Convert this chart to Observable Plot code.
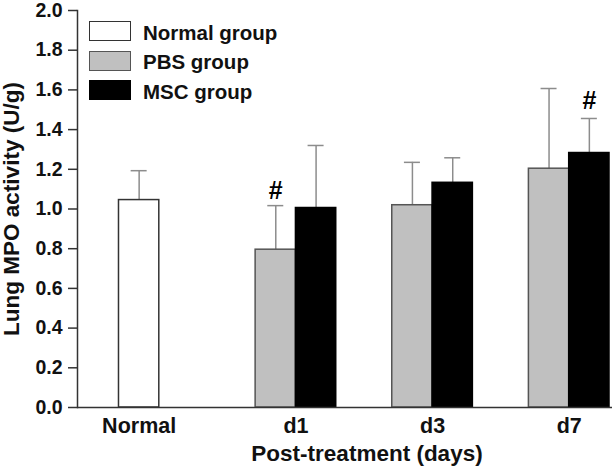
<!DOCTYPE html>
<html>
<head>
<meta charset="utf-8">
<script src="https://cdn.jsdelivr.net/npm/d3@7"></script>
<script src="https://cdn.jsdelivr.net/npm/@observablehq/plot@0.6"></script>
<style>
  html, body { margin: 0; padding: 0; background: #fff; }
  #chart { position: relative; width: 614px; height: 468px; font-family: "Liberation Sans", Arial, sans-serif; font-weight: bold; color: #111; }
  #legend { position: absolute; left: 89px; top: 21px; }
  .row { display: flex; align-items: center; height: 20px; margin-bottom: 9.5px; }
  .swatch { width: 42px; height: 20px; box-sizing: border-box; border: 1.5px solid #333; margin-right: 12px; }
  .lab { font-size: 20.5px; line-height: 20px; padding-top: 3px; }
</style>
</head>
<body>
<div id="chart"></div>
<script>
// ---- data ----
const groups = ["Normal", "d1", "d3", "d7"];
const dayGroups = ["d1", "d3", "d7"];
const seriesNames = ["Normal group", "PBS group", "MSC group"];
const normalMean = [1.045];
const normalSD = [0.148];
const pbsMean = [0.795, 1.019, 1.203];
const pbsSD = [0.222, 0.216, 0.404];
const mscMean = [1.005, 1.132, 1.282];
const mscSD = [0.315, 0.126, 0.174];
const sigPBS = ["d1"];   // "#" over PBS bar
const sigMSC = ["d7"];   // "#" over MSC bar
const yTicks = [0, 0.2, 0.4, 0.6, 0.8, 1.0, 1.2, 1.4, 1.6, 1.8, 2.0];
const yLabel = "Lung MPO activity (U/g)";
const xLabel = "Post-treatment (days)";

// ---- tables ----
const normalRows = normalMean.map((m, i) => ({group: "Normal", mean: m, sd: normalSD[i]}));
const pbsRows = dayGroups.map((g, i) => ({group: g, mean: pbsMean[i], sd: pbsSD[i]}));
const mscRows = dayGroups.map((g, i) => ({group: g, mean: mscMean[i], sd: mscSD[i]}));
const leftRows = normalRows.concat(pbsRows);   // bars in left half of band
const errTop = d => d.mean + d.sd;

// ---- x band layout ----
const xRange = [77.5, 650];
const padIn = 0.41, padOut = 0.3;
const bw = d3.scaleBand(groups, xRange).paddingInner(padIn).paddingOuter(padOut).bandwidth();
const half = bw / 2, quarter = bw / 4, capW = 16;
const capInset = (bw - capW) / 2;

const errColor = "#8c8c8c";
const font = "Liberation Sans, Arial, sans-serif";

const plot = Plot.plot({
  width: 614,
  height: 468,
  marginTop: 10,
  marginBottom: 61,
  marginLeft: 77,
  marginRight: 2,
  style: {fontFamily: font, fontWeight: "bold", fontSize: "20px", color: "#111", background: "#fff"},
  x: {domain: groups, range: xRange, paddingInner: padIn, paddingOuter: padOut, round: false},
  y: {domain: [0, 2]},
  marks: [
    // error bars (drawn first, bars cover the lower part)
    Plot.ruleX(leftRows, {x: "group", y1: "mean", y2: errTop, dx: -quarter, stroke: errColor, strokeWidth: 1.5}),
    Plot.ruleX(mscRows, {x: "group", y1: "mean", y2: errTop, dx: quarter, stroke: errColor, strokeWidth: 1.5}),
    Plot.tickY(leftRows, {x: "group", y: errTop, dx: -quarter, insetLeft: capInset, insetRight: capInset, stroke: errColor, strokeWidth: 1.5}),
    Plot.tickY(mscRows, {x: "group", y: errTop, dx: quarter, insetLeft: capInset, insetRight: capInset, stroke: errColor, strokeWidth: 1.5}),
    // bars
    Plot.barY(normalRows, {x: "group", y: "mean", insetRight: half, fill: "#fff", stroke: "#333", strokeWidth: 1.5}),
    Plot.barY(pbsRows, {x: "group", y: "mean", insetRight: half, fill: "#c0c0c0", stroke: "#555", strokeWidth: 1.5}),
    Plot.barY(mscRows, {x: "group", y: "mean", insetLeft: half, fill: "#000", stroke: "#000", strokeWidth: 1.5}),
    // significance marks
    Plot.text(pbsRows.filter(d => sigPBS.includes(d.group)), {x: "group", y: errTop, dx: -quarter, dy: -15, text: () => "#", fontSize: 25, fill: "#000"}),
    Plot.text(mscRows.filter(d => sigMSC.includes(d.group)), {x: "group", y: errTop, dx: quarter, dy: -17, text: () => "#", fontSize: 25, fill: "#000"}),
    // axes
    Plot.ruleY([0], {stroke: "#333", strokeWidth: 1.5}),
    Plot.frame({anchor: "left", stroke: "#333", strokeWidth: 1.5}),
    Plot.axisY({ticks: yTicks, tickFormat: d3.format(".1f"), tickSize: 9, tickPadding: 6, label: null, fontSize: 19.5, stroke: "#333", strokeWidth: 1.5, fill: "#111"}),
    Plot.axisX(["Normal"], {tickSize: 0, tickPadding: 10, dx: -quarter, label: null, fontSize: 21.5, fill: "#111"}),
    Plot.axisX(dayGroups, {tickSize: 0, tickPadding: 10, label: null, fontSize: 21.5, fill: "#111"}),
    Plot.text([xLabel], {frameAnchor: "bottom", dx: 22, dy: 53, fontSize: 22.5, fill: "#111"}),
    Plot.text([yLabel], {frameAnchor: "left", textAnchor: "middle", dx: -66, rotate: -90, fontSize: 22.5, fill: "#111"})
  ]
});

const chart = document.getElementById("chart");
chart.appendChild(plot);

// legend (inside the plot area, as in the reference)
const legendFills = ["#fff", "#c0c0c0", "#000"];
const legendStrokes = ["#333", "#555", "#000"];
const legend = document.createElement("div");
legend.id = "legend";
seriesNames.forEach((name, i) => {
  const row = document.createElement("div");
  row.className = "row";
  const sw = document.createElement("div");
  sw.className = "swatch";
  sw.style.background = legendFills[i];
  sw.style.borderColor = legendStrokes[i];
  const lab = document.createElement("span");
  lab.className = "lab";
  lab.textContent = name;
  row.appendChild(sw);
  row.appendChild(lab);
  legend.appendChild(row);
});
chart.appendChild(legend);
</script>
</body>
</html>
